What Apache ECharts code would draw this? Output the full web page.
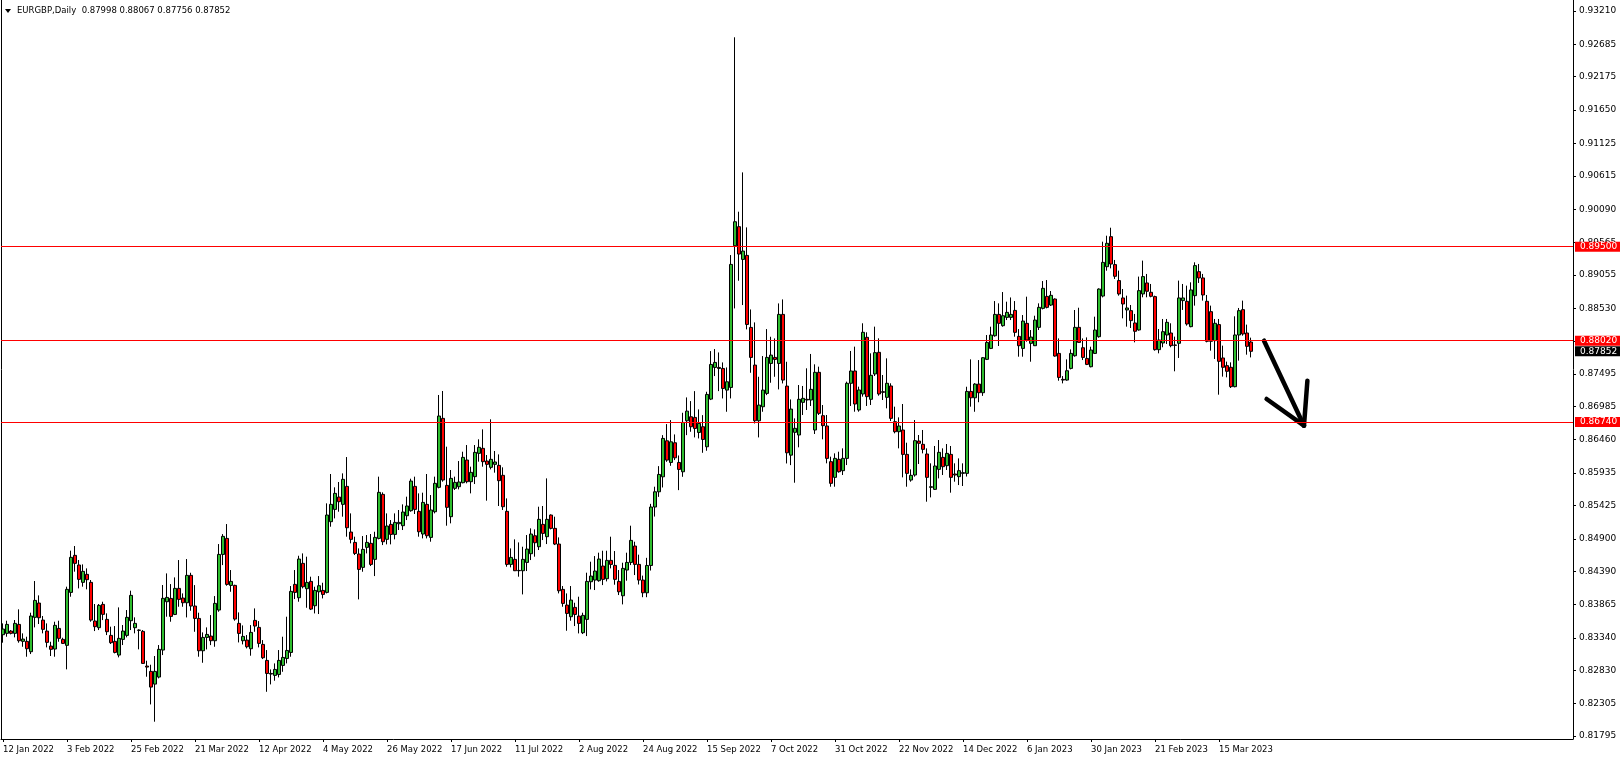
<!DOCTYPE html>
<html><head><meta charset="utf-8">
<script src="https://cdn.jsdelivr.net/npm/echarts@6/dist/echarts.min.js"></script>
<style>html,body{margin:0;padding:0;background:#fff}#c{width:1620px;height:760px}</style>
</head><body><div id="c"></div>
<script>
const symbolName = 'EURGBP';
const periodName = 'Daily';
const dateLabels = ['12 Jan 2022','3 Feb 2022','25 Feb 2022','21 Mar 2022','12 Apr 2022','4 May 2022','26 May 2022','17 Jun 2022','11 Jul 2022','2 Aug 2022','24 Aug 2022','15 Sep 2022','7 Oct 2022','31 Oct 2022','22 Nov 2022','14 Dec 2022','6 Jan 2023','30 Jan 2023','21 Feb 2023','15 Mar 2023'];
const priceTicks = [0.93210,0.92685,0.92175,0.91650,0.91125,0.90615,0.90090,0.89565,0.89055,0.88530,0.88005,0.87495,0.86985,0.86460,0.85935,0.85425,0.84900,0.84390,0.83865,0.83340,0.82830,0.82305,0.81795];
const levels = [0.89500, 0.88020, 0.86740];

const opens = [
0.83390,0.83411,0.83447,0.83411,0.83552,0.83285,0.83285,0.83122,0.83663,0.83888,
0.83620,0.83447,0.83211,0.83164,0.83489,0.83316,0.83222,0.84056,0.84639,0.84487,
0.84214,0.84340,0.84214,0.83605,0.83500,0.83867,0.83631,0.83379,0.83285,0.83069,
0.83316,0.83379,0.83610,0.83500,0.83463,0.83442,0.82896,0.82812,0.82612,0.82723,
0.83148,0.83909,0.83961,0.83709,0.84119,0.83967,0.83893,0.84324,0.83841,0.83646,
0.83137,0.83347,0.83368,0.83295,0.83778,0.84654,0.84906,0.84166,0.84166,0.83568,
0.83295,0.83305,0.83169,0.83615,0.83505,0.83237,0.82985,0.82780,0.82749,0.82764,
0.82906,0.83016,0.83111,0.84182,0.83972,0.84513,0.84114,0.84229,0.83846,0.84066,
0.84087,0.84056,0.85169,0.85363,0.85557,0.85442,0.85725,0.85006,0.84843,0.84660,
0.84450,0.84765,0.84828,0.84576,0.84906,0.85599,0.84891,0.85127,0.84969,0.85137,
0.85106,0.85263,0.85342,0.85725,0.85332,0.84975,0.85442,0.84922,0.85326,0.85710,
0.86796,0.85741,0.85248,0.85694,0.85720,0.85783,0.86140,0.85799,0.85878,0.86245,
0.86324,0.86124,0.86025,0.86072,0.86056,0.85899,0.85332,0.84497,0.84576,0.84402,
0.84397,0.84528,0.84665,0.84948,0.84775,0.85127,0.84933,0.85274,0.85064,0.84817,
0.84103,0.83856,0.83673,0.83820,0.83683,0.83421,0.83631,0.84224,0.84250,0.84240,
0.84471,0.84271,0.84560,0.84481,0.84229,0.84003,0.84408,0.84528,0.84786,0.84497,
0.84250,0.84050,0.84480,0.85400,0.85640,0.85876,0.86443,0.86102,0.86412,0.86102,
0.85955,0.86758,0.86821,0.86811,0.86574,0.86664,0.86349,0.87099,0.87598,0.87598,
0.87582,0.87241,0.87283,0.89514,0.89814,0.89299,0.89362,0.88228,0.87635,0.86758,
0.86979,0.87189,0.87661,0.87756,0.87661,0.88433,0.87304,0.86217,0.86576,0.86534,
0.87048,0.87096,0.87085,0.86613,0.87521,0.86838,0.86676,0.86114,0.85867,0.86151,
0.85972,0.86166,0.87348,0.87542,0.86928,0.87180,0.88072,0.87096,0.87495,0.87836,
0.87216,0.87127,0.87306,0.86744,0.86586,0.86613,0.86229,0.85825,0.85904,0.86439,
0.86387,0.86235,0.85710,0.85678,0.85993,0.86182,0.86051,0.86229,0.85920,0.85878,
0.85930,0.85930,0.87220,0.87120,0.87336,0.87200,0.87725,0.87898,0.88097,0.88433,
0.88255,0.88386,0.88386,0.88496,0.88087,0.87898,0.88292,0.87977,0.87940,0.88229,
0.88528,0.88717,0.88580,0.88675,0.87819,0.87410,0.87399,0.87583,0.87782,0.88229,
0.87908,0.87740,0.87609,0.87819,0.88082,0.88722,0.89184,0.89657,0.89217,0.88965,
0.88692,0.88503,0.88492,0.88298,0.88188,0.88755,0.88928,0.88781,0.88713,0.87878,
0.87983,0.88109,0.88140,0.87951,0.87978,0.88650,0.88639,0.88240,0.88728,0.89106,
0.89007,0.88639,0.88476,0.88020,0.88272,0.87747,0.87626,0.87600,0.87295,0.88109,
0.88508,0.88140,0.87998];

const highs = [
0.83568,0.83610,0.83463,0.83621,0.83789,0.83411,0.83358,0.83736,0.84235,0.84009,
0.83684,0.83568,0.83279,0.83594,0.83610,0.83342,0.84146,0.84713,0.84786,0.84566,
0.84497,0.84434,0.84251,0.83873,0.83873,0.83909,0.83726,0.83516,0.83526,0.83820,
0.83542,0.83778,0.84083,0.83663,0.83474,0.83463,0.82980,0.82917,0.83054,0.83227,
0.84172,0.84355,0.84187,0.84292,0.84565,0.84040,0.84581,0.84365,0.84171,0.83736,
0.83426,0.83505,0.83699,0.83998,0.84817,0.84974,0.85132,0.84408,0.84177,0.83741,
0.83536,0.83384,0.83541,0.83804,0.83604,0.83305,0.83148,0.82843,0.82938,0.83148,
0.83358,0.83673,0.84156,0.84408,0.84633,0.84670,0.84618,0.84303,0.84145,0.84313,
0.84208,0.85458,0.85920,0.85710,0.85794,0.85930,0.86187,0.85300,0.84933,0.84749,
0.84943,0.84959,0.84975,0.85011,0.85878,0.85631,0.85300,0.85195,0.85300,0.85353,
0.85442,0.85563,0.85846,0.85878,0.85615,0.85626,0.85920,0.85589,0.85878,0.87164,
0.87227,0.86350,0.85983,0.85878,0.86124,0.86271,0.86376,0.86035,0.86376,0.86466,
0.86623,0.86219,0.86781,0.86282,0.86229,0.86025,0.85536,0.84749,0.84891,0.84843,
0.84775,0.84959,0.85064,0.85048,0.85405,0.85416,0.85851,0.85284,0.85248,0.84922,
0.84156,0.84040,0.84156,0.83893,0.83988,0.83736,0.84366,0.84539,0.84628,0.84681,
0.84712,0.84712,0.84933,0.84707,0.84408,0.84523,0.84681,0.85106,0.84854,0.84650,
0.84320,0.84600,0.85450,0.85720,0.86044,0.86532,0.86706,0.86769,0.86543,0.86212,
0.86884,0.87126,0.87068,0.87225,0.86937,0.86847,0.87215,0.87855,0.87887,0.87834,
0.87677,0.87598,0.89367,0.92796,0.90050,0.90669,0.89803,0.88511,0.88307,0.87451,
0.87777,0.88202,0.88081,0.88055,0.88606,0.88669,0.87687,0.87094,0.86796,0.87321,
0.87306,0.87584,0.87810,0.87647,0.87610,0.87006,0.86849,0.86193,0.86245,0.86271,
0.86324,0.87374,0.87857,0.87925,0.87295,0.88293,0.88151,0.87820,0.88240,0.88056,
0.87479,0.87741,0.87348,0.86980,0.86812,0.87022,0.86413,0.85993,0.86770,0.86534,
0.86613,0.86324,0.86088,0.86361,0.86455,0.86324,0.86392,0.86361,0.86088,0.86166,
0.86088,0.87294,0.87725,0.87350,0.87714,0.87760,0.88108,0.88239,0.88643,0.88607,
0.88785,0.88633,0.88700,0.88643,0.88202,0.88423,0.88712,0.88187,0.88412,0.88607,
0.88958,0.88974,0.88801,0.88685,0.88055,0.87462,0.87725,0.87882,0.88502,0.88538,
0.88055,0.88071,0.87924,0.88397,0.88843,0.89578,0.89672,0.89798,0.89290,0.89122,
0.88833,0.88728,0.88581,0.88440,0.89028,0.89280,0.89070,0.88912,0.88728,0.88203,
0.88361,0.88361,0.88293,0.88083,0.88965,0.88912,0.88886,0.88938,0.89253,0.89227,
0.89070,0.88739,0.88571,0.88361,0.88361,0.87941,0.87689,0.87678,0.88403,0.88534,
0.88650,0.88272,0.88067];

const lows = [
0.83264,0.83358,0.83395,0.83348,0.83264,0.83200,0.83043,0.83085,0.83505,0.83558,
0.83411,0.83190,0.83054,0.83043,0.83279,0.83243,0.82844,0.83988,0.84382,0.84119,
0.84146,0.84104,0.83594,0.83447,0.83463,0.83620,0.83384,0.83243,0.83096,0.83033,
0.83227,0.83348,0.83463,0.83411,0.83159,0.82933,0.82728,0.82292,0.82020,0.82702,
0.83069,0.83673,0.83594,0.83699,0.83830,0.83830,0.83662,0.83767,0.83436,0.83043,
0.82948,0.83158,0.83226,0.83200,0.83751,0.84486,0.84161,0.84066,0.83610,0.83268,
0.83237,0.83174,0.83059,0.83436,0.83190,0.83006,0.82491,0.82607,0.82665,0.82717,
0.82806,0.82938,0.83043,0.83951,0.83909,0.84119,0.83814,0.83778,0.83725,0.83715,
0.83961,0.84040,0.85090,0.85221,0.85326,0.85248,0.84933,0.84828,0.84644,0.83946,
0.84381,0.84670,0.84471,0.84313,0.84891,0.84801,0.84812,0.84812,0.84891,0.85038,
0.85038,0.85195,0.85326,0.85290,0.84933,0.84906,0.84906,0.84854,0.85300,0.85694,
0.85799,0.85106,0.85143,0.85668,0.85678,0.85773,0.85773,0.85615,0.85762,0.86114,
0.86035,0.85500,0.85993,0.85941,0.85416,0.85353,0.84460,0.84450,0.84392,0.84303,
0.84024,0.84392,0.84565,0.84618,0.84723,0.84880,0.84817,0.85048,0.84801,0.84040,
0.83830,0.83452,0.83610,0.83526,0.83410,0.83400,0.83368,0.84103,0.84093,0.84224,
0.84171,0.84229,0.84434,0.84177,0.84014,0.83867,0.84240,0.84486,0.84329,0.84180,
0.83980,0.83980,0.84400,0.85250,0.85560,0.85708,0.86112,0.86049,0.86139,0.85666,
0.85876,0.86532,0.86585,0.86496,0.86480,0.86254,0.86286,0.87084,0.87462,0.87225,
0.87110,0.86900,0.87110,0.88527,0.88963,0.88580,0.88197,0.87514,0.86716,0.86496,
0.86900,0.87162,0.87357,0.87451,0.87252,0.87346,0.86086,0.86060,0.85783,0.86340,
0.86849,0.86928,0.86991,0.86550,0.86849,0.86466,0.86088,0.85720,0.85720,0.85941,
0.85904,0.86061,0.86991,0.86901,0.86901,0.87138,0.86991,0.87006,0.87463,0.87153,
0.87085,0.86954,0.86754,0.86560,0.86324,0.85867,0.85720,0.85799,0.85878,0.86077,
0.86245,0.85484,0.85552,0.85668,0.85851,0.85904,0.85983,0.85626,0.85799,0.85746,
0.85731,0.85880,0.86980,0.86900,0.87050,0.87150,0.87714,0.87887,0.88082,0.87935,
0.88239,0.88344,0.88344,0.88082,0.87767,0.87767,0.88003,0.87688,0.87935,0.88187,
0.88512,0.88528,0.88565,0.87767,0.87389,0.87347,0.87389,0.87567,0.87767,0.87987,
0.87714,0.87635,0.87599,0.87809,0.88066,0.88701,0.89121,0.89158,0.88991,0.88728,
0.88371,0.88240,0.88219,0.87993,0.88177,0.88702,0.88702,0.88702,0.87862,0.87820,
0.87915,0.87967,0.87915,0.87537,0.87747,0.88503,0.88256,0.88230,0.88571,0.88928,
0.88650,0.87993,0.87862,0.87731,0.87169,0.87453,0.87442,0.87274,0.87285,0.87705,
0.88098,0.87799,0.87756];

const closes = [
0.83479,0.83552,0.83411,0.83568,0.83295,0.83321,0.83169,0.83684,0.83930,0.83657,
0.83474,0.83269,0.83159,0.83537,0.83332,0.83253,0.84104,0.84608,0.84513,0.84261,
0.84387,0.84256,0.83620,0.83516,0.83852,0.83710,0.83437,0.83264,0.83111,0.83332,
0.83447,0.83663,0.84009,0.83568,0.83458,0.82938,0.82880,0.82565,0.82812,0.83159,
0.83962,0.83977,0.83678,0.84119,0.83946,0.83893,0.84324,0.83841,0.83646,0.83137,
0.83347,0.83394,0.83295,0.83883,0.84654,0.84938,0.84182,0.84229,0.83636,0.83410,
0.83363,0.83200,0.83426,0.83526,0.83253,0.83027,0.82780,0.82770,0.82843,0.82985,
0.83032,0.83142,0.84072,0.84056,0.84581,0.84145,0.84213,0.83793,0.84087,0.84161,
0.84024,0.85274,0.85442,0.85615,0.85484,0.85836,0.85074,0.84891,0.84670,0.84418,
0.84733,0.84843,0.84497,0.84922,0.85631,0.84854,0.85101,0.84969,0.85158,0.85158,
0.85321,0.85416,0.85809,0.85363,0.85011,0.85473,0.84948,0.85353,0.85773,0.86833,
0.85825,0.85395,0.85851,0.85788,0.85794,0.86182,0.85799,0.85946,0.86261,0.86340,
0.86114,0.86072,0.86151,0.86109,0.85815,0.85405,0.84497,0.84607,0.84397,0.84397,
0.84576,0.84738,0.84975,0.84838,0.85206,0.84985,0.85206,0.85064,0.84817,0.84082,
0.83883,0.83725,0.83935,0.83709,0.83568,0.83694,0.84229,0.84313,0.84392,0.84581,
0.84261,0.84560,0.84497,0.84261,0.84066,0.84434,0.84528,0.84875,0.84497,0.84250,
0.84050,0.84480,0.85400,0.85640,0.85913,0.86480,0.86139,0.86427,0.86175,0.85992,
0.86732,0.86910,0.86664,0.86637,0.86716,0.86464,0.87173,0.87645,0.87677,0.87582,
0.87267,0.87372,0.89220,0.89892,0.89383,0.89430,0.88275,0.87756,0.86758,0.87005,
0.87241,0.87756,0.87792,0.87724,0.88433,0.87399,0.86254,0.86942,0.86639,0.87096,
0.87111,0.87085,0.87253,0.87521,0.86875,0.86681,0.86166,0.85773,0.86166,0.85956,
0.86166,0.87348,0.87542,0.87022,0.87243,0.88151,0.87138,0.87474,0.87831,0.87180,
0.87206,0.87348,0.86796,0.86586,0.86676,0.86229,0.85930,0.85899,0.86445,0.86403,
0.86308,0.85867,0.85720,0.86046,0.86261,0.86035,0.86245,0.85867,0.85904,0.85972,
0.85941,0.87220,0.87120,0.87336,0.87200,0.87751,0.87992,0.88108,0.88433,0.88292,
0.88412,0.88465,0.88433,0.88150,0.87940,0.88328,0.88029,0.88076,0.88344,0.88544,
0.88843,0.88544,0.88733,0.87777,0.87441,0.87399,0.87546,0.87819,0.88229,0.87992,
0.87756,0.87646,0.87872,0.88187,0.88832,0.89252,0.89552,0.89226,0.89033,0.88755,
0.88597,0.88534,0.88335,0.88167,0.88807,0.89028,0.88797,0.88718,0.87878,0.88030,
0.88161,0.88308,0.87941,0.87946,0.88692,0.88692,0.88282,0.88818,0.89201,0.89007,
0.88739,0.88009,0.88009,0.88293,0.87694,0.87600,0.87537,0.87295,0.88109,0.88492,
0.88125,0.87930,0.87852];

// hand-drawn arrow annotation, in (bar index, price) space
const arrowStrokes = [
  [[315.25, 0.88019], [325.25, 0.86681]],
  [[315.9, 0.87101], [325.25, 0.86681]],
  [[325.25, 0.86681], [326.1, 0.87389]]
];

const SLOTS = 393;      // visible bar slots including the empty right shift area
const LABEL_STEP = 16;  // MT4 puts a date every 16 bars
const FONT = 'DejaVu Sans';

const categories = [];
for (let i = 0; i < SLOTS; i++) categories.push('b' + i);
const isLabel = (i) => i % LABEL_STEP === 0 && (i / LABEL_STEP) < dateLabels.length;
const candles = opens.map((o, i) => [o, closes[i], lows[i], highs[i]]);
const last = opens.length - 1;

const chart = echarts.init(document.getElementById('c'), null, {renderer: 'canvas'});

const markData = levels.map(v => ({
  yAxis: v,
  lineStyle: {color: '#ff0000', width: 1, type: 'solid'},
  label: {backgroundColor: '#ff0000'}
}));
markData.push({
  yAxis: closes[last],
  lineStyle: {color: 'rgba(0,0,0,0)', width: 1, type: 'solid'},
  label: {backgroundColor: '#000000'}
});

chart.setOption({
  animation: false,
  backgroundColor: '#ffffff',
  grid: {left: 1, right: 47, top: 0, bottom: 21, show: false},
  xAxis: {
    type: 'category',
    data: categories,
    boundaryGap: true,
    axisLine: {show: true, lineStyle: {color: '#000', width: 1}},
    axisTick: {show: true, interval: (i) => isLabel(i), alignWithLabel: true, length: 3, lineStyle: {color: '#000'}},
    axisLabel: {
      interval: (i) => isLabel(i),
      formatter: (v, i) => isLabel(i) ? dateLabels[i / LABEL_STEP] : '',
      align: 'left', margin: 6, fontSize: 8.5, fontFamily: FONT, color: '#000',
      hideOverlap: false
    },
    splitLine: {show: false}
  },
  yAxis: {
    type: 'value',
    position: 'right',
    min: 0.817476,
    max: 0.933832,
    axisLine: {show: true, lineStyle: {color: '#000', width: 1}},
    axisTick: {show: true, customValues: priceTicks, length: 3, lineStyle: {color: '#000'}},
    axisLabel: {
      customValues: priceTicks,
      formatter: (v) => Number(v).toFixed(5),
      margin: 6, fontSize: 9, fontFamily: FONT, color: '#000'
    },
    splitLine: {show: false}
  },
  series: [{
    type: 'candlestick',
    data: candles,
    barWidth: 3,
    itemStyle: {
      color: '#2ebd2e', color0: '#ff0000',
      borderColor: '#000000', borderColor0: '#000000', borderWidth: 1
    },
    markLine: {
      silent: true,
      animation: false,
      precision: 5,
      symbol: ['none', 'none'],
      label: {
        show: true, position: 'end', distance: 2,
        formatter: (p) => Number(p.value).toFixed(5),
        color: '#ffffff', fontSize: 9, fontFamily: FONT,
        padding: [1, 3, 0, 5], lineHeight: 9
      },
      data: markData
    }
  }],
  graphic: [
    {type: 'line', id: 'leftBorder', shape: {x1: 1.5, y1: 0, x2: 1.5, y2: 739}, style: {stroke: '#000', lineWidth: 1}, silent: true},
    {type: 'polygon', id: 'hdrTri', shape: {points: [[5, 9], [11, 9], [8, 13]]}, style: {fill: '#000'}, silent: true},
    {type: 'text', id: 'hdrText', left: 17, top: 6,
      style: {
        text: symbolName + ',' + periodName + '  ' + [opens[last], highs[last], lows[last], closes[last]].map(v => v.toFixed(5)).join(' '),
        fill: '#000', font: '8.5px "DejaVu Sans"'
      }, silent: true}
  ]
});

// arrow drawn in data space via the axes
const x0 = chart.convertToPixel({xAxisIndex: 0}, 0);
const x100 = chart.convertToPixel({xAxisIndex: 0}, 100);
const toPx = (pt) => [x0 + (x100 - x0) * pt[0] / 100, chart.convertToPixel({yAxisIndex: 0}, pt[1])];
chart.setOption({
  graphic: arrowStrokes.map((s, k) => ({
    type: 'polyline', id: 'arrow' + k, silent: true,
    shape: {points: s.map(toPx)},
    style: {stroke: '#000', lineWidth: 4.5, lineCap: 'round', lineJoin: 'round', fill: null}
  }))
});
</script>
</body></html>
